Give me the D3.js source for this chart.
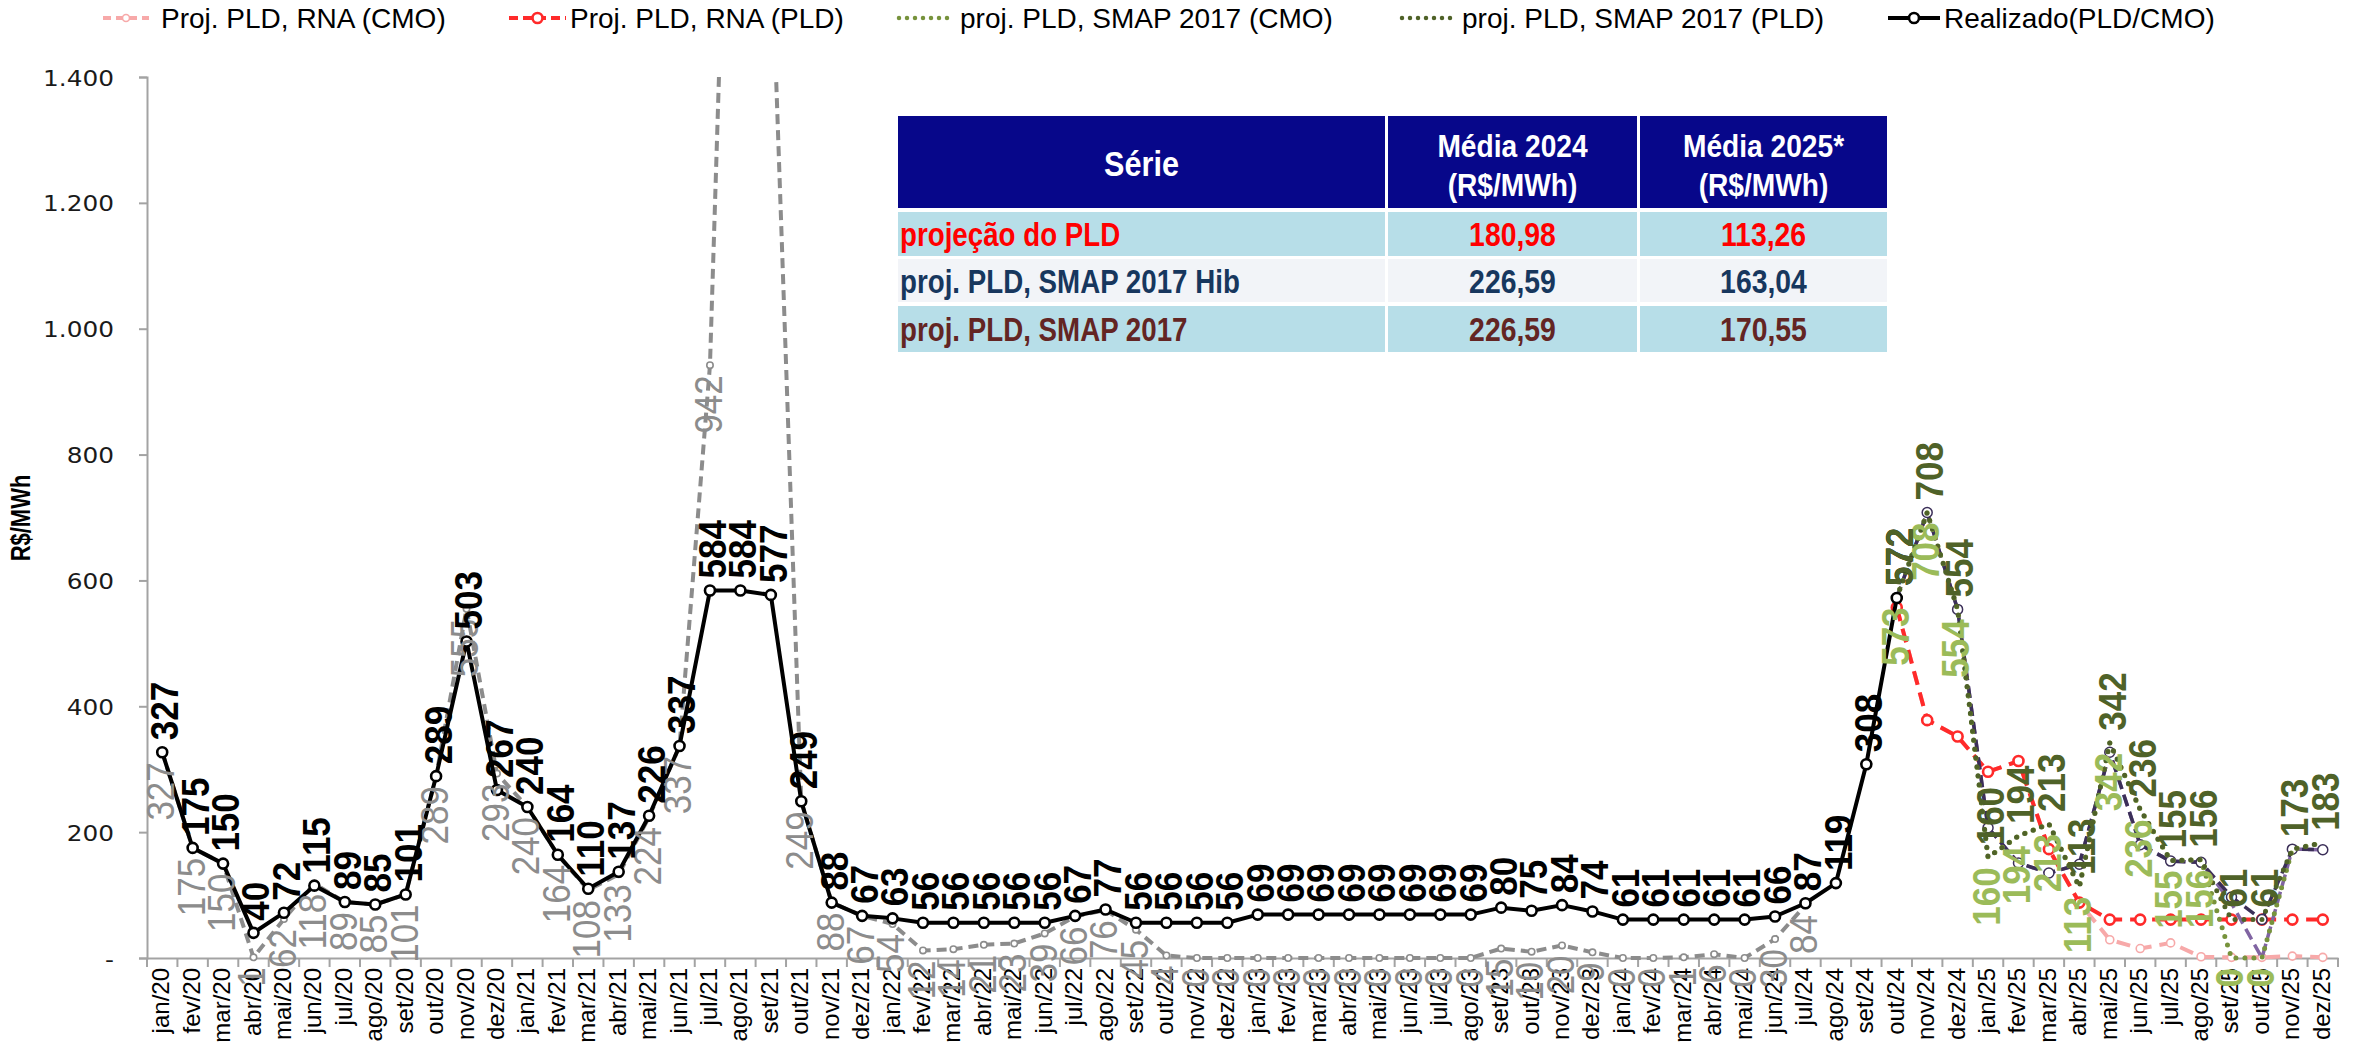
<!DOCTYPE html>
<html>
<head>
<meta charset="utf-8">
<script src="https://cdn.jsdelivr.net/npm/d3@7"></script>
<style>
  html, body { margin: 0; padding: 0; background: #ffffff; }
  svg { display: block; }
</style>
</head>
<body>
<svg id="chart" width="2361" height="1042"></svg>
<script>
// ---- categories -------------------------------------------------------
const monthNames = ["jan","fev","mar","abr","mai","jun","jul","ago","set","out","nov","dez"];
const years = ["20","21","22","23","24","25"];
const months = years.flatMap(a => monthNames.map(m => `${m}/${a}`));
const projStart = "out/24";           // first month of the projections

const yTicks = [0, 200, 400, 600, 800, 1000, 1200, 1400];

// ---- series (R$/MWh) --------------------------------------------------
// Realizado (PLD/CMO), jan/20 .. out/24
const realizado = [
  327,175,150,40,72,115,89,85,101,289,503,267,
  240,164,110,137,226,337,584,584,577,249,88,67,
  63,56,56,56,56,56,67,77,56,56,56,56,
  69,69,69,69,69,69,69,69,80,75,84,74,
  61,61,61,61,61,66,87,119,308,572
];
// CMO realizado, jan/20 .. jul/24
const cmoRealizado = [
  327,175,150,1,62,118,89,85,101,289,555,293,
  240,164,108,133,224,337,942,2493,1640,249,88,67,
  54,12,14,21,23,39,66,76,45,4,0,0,
  0,0,0,0,0,0,0,0,15,10,20,9,
  0,0,1,6,0,30,84
];
// projections, out/24 .. dez/25
const rnaCmo   = [557,378,352,296,313,173,88,29,15,24,2,1,1,3,1];
const rnaPld   = [557,378,352,296,313,173,88,61,61,61,61,61,61,61,61];
const hibCmo   = [572,708,554,207,151,135,149,327,180,154,152,87,0,173,172];
const hibPld   = [572,708,554,207,151,135,149,327,180,154,152,97,61,173,172];
const smapCmo  = [573,708,554,160,194,213,113,342,236,155,156,0,0,173,183];
const smapPld  = [572,708,554,160,194,213,113,342,236,155,156,61,61,173,183];
const smapCmoSemRotulo = ["nov/25","dez/25"];

// ---- summary table ----------------------------------------------------
const tabelaCabecalho = ["Série", "Média 2024", "Média 2025*"];
const tabelaUnidade = "(R$/MWh)";
const tabelaSeries = ["projeção do PLD", "proj. PLD, SMAP 2017 Hib", "proj. PLD, SMAP 2017"];
const media2024 = ["180,98", "226,59", "226,59"];
const media2025 = ["113,26", "163,04", "170,55"];

// ---- legend -----------------------------------------------------------
const legendNames = [
  "Proj. PLD, RNA (CMO)",
  "Proj. PLD, RNA (PLD)",
  "proj. PLD, SMAP 2017 (CMO)",
  "proj. PLD, SMAP 2017 (PLD)",
  "Realizado(PLD/CMO)"
];

// ======================================================================
const FONT = "'Liberation Sans', Arial, sans-serif";
const svg = d3.select("#chart");

const X0 = 147, X1 = 2338, Y0 = 958, Y1 = 77;
const x = d3.scaleBand().domain(months).range([X0, X1]);
const y = d3.scaleLinear().domain([0, 1400]).range([Y0, Y1]);
const cx = m => x(m) + x.bandwidth() / 2;

const ptBr = d3.formatLocale({ decimal: ",", thousands: ".", grouping: [3], currency: ["R$ ", ""] });
const fmtTick = ptBr.format(",");

svg.append("defs").append("clipPath").attr("id", "plotClip")
  .append("rect").attr("x", X0 - 20).attr("y", Y1).attr("width", X1 - X0 + 40).attr("height", 1042 - Y1);

// ---- axes -------------------------------------------------------------
const AXIS = "#a3a3a3";

const yAxis = svg.append("g").attr("transform", `translate(${X0},0)`)
  .call(d3.axisLeft(y).tickValues(yTicks).tickSize(8).tickFormat(d => d === 0 ? "-" : fmtTick(d)));
yAxis.select(".domain").attr("stroke", AXIS).attr("stroke-width", 2);
yAxis.selectAll(".tick line").attr("stroke", AXIS).attr("stroke-width", 2);
yAxis.selectAll(".tick text")
  .attr("x", null).attr("dy", null)
  .attr("transform", "translate(-33,8) scale(1.18,1)")
  .attr("text-anchor", "end")
  .attr("font-family", "'DejaVu Sans', Verdana, sans-serif").attr("font-size", 21).attr("fill", "#1a1a1a");

const xAxis = svg.append("g").attr("transform", `translate(0,${Y0})`)
  .call(d3.axisBottom(x).tickSize(0));
xAxis.select(".domain").attr("stroke", AXIS).attr("stroke-width", 2);
xAxis.selectAll(".tick text")
  .attr("y", null).attr("dy", null)
  .attr("transform", "translate(7,10) rotate(-90)")
  .attr("text-anchor", "end")
  .attr("font-family", FONT).attr("font-size", 24).attr("fill", "#000");
// tick marks sit between categories
svg.append("g").selectAll("line").data(months.concat(["__end"])).join("line")
  .attr("x1", d => d === "__end" ? X1 : x(d)).attr("x2", d => d === "__end" ? X1 : x(d))
  .attr("y1", Y0).attr("y2", Y0 + 9)
  .attr("stroke", AXIS).attr("stroke-width", 2);

// y axis title
svg.append("text")
  .attr("transform", "translate(30,518) scale(1.25,1) rotate(-90)")
  .attr("text-anchor", "middle")
  .attr("font-family", FONT).attr("font-size", 22).attr("font-weight", "bold")
  .text("R$/MWh");

// ---- series -----------------------------------------------------------
const startIdx = months.indexOf(projStart);
const toPoints = (first, vals) => vals.map((v, i) => ({ m: months[first + i], v }));

const line = d3.line().x(d => cx(d.m)).y(d => y(d.v));
const plot = svg.append("g").attr("clip-path", "url(#plotClip)");

function drawSeries(pts, o) {
  plot.append("path").datum(pts)
    .attr("d", line).attr("fill", "none")
    .attr("stroke", o.color).attr("stroke-width", o.width)
    .attr("stroke-dasharray", o.dash || null)
    .attr("stroke-linecap", o.cap || "butt")
    .attr("stroke-linejoin", "round");
  if (o.r) {
    plot.append("g").selectAll("circle").data(pts.filter(d => d.v <= 1400)).join("circle")
      .attr("cx", d => cx(d.m)).attr("cy", d => y(d.v)).attr("r", o.r)
      .attr("fill", "#fff").attr("stroke", o.mcolor || o.color).attr("stroke-width", o.mwidth);
  }
}

const cmoPts   = toPoints(0, cmoRealizado);
const realPts  = toPoints(0, realizado);
const rnaCmoPts  = toPoints(startIdx, rnaCmo);
const rnaPldPts  = toPoints(startIdx, rnaPld);
const hibCmoPts  = toPoints(startIdx, hibCmo);
const hibPldPts  = toPoints(startIdx, hibPld);
const smapCmoPts = toPoints(startIdx, smapCmo);
const smapPldPts = toPoints(startIdx, smapPld);

const C = {
  gray: "#8c8c8c", pink: "#f7a9a9", red: "#ff2a2a",
  hib: "#3b2f58", hibLight: "#8064a2",
  olive: "#77933c", oliveDark: "#4f6228",
  green: "#9bbb59", black: "#000"
};

drawSeries(cmoPts,     { color: C.gray, width: 4, dash: "10,6", r: 3.2, mwidth: 1.6 });
drawSeries(rnaCmoPts,  { color: C.pink, width: 4, dash: "14,8", r: 4, mwidth: 1.6 });
drawSeries(rnaPldPts,  { color: C.red, width: 4, dash: "14,8", r: 5, mwidth: 2.6 });
drawSeries(hibCmoPts,  { color: C.hibLight, width: 3.5, dash: "12,6" });
drawSeries(hibPldPts,  { color: C.hib, width: 3.5, dash: "12,6", r: 5, mwidth: 1.5 });
drawSeries(smapCmoPts, { color: C.olive, width: 5, dash: "0,9", cap: "round" });
drawSeries(smapPldPts, { color: C.oliveDark, width: 5, dash: "0,9", cap: "round" });
drawSeries(realPts,    { color: C.black, width: 4, r: 5, mwidth: 2.6 });

// ---- data labels (rotated, Excel style) ------------------------------
const labelLayer = svg.append("g");
function drawLabels(pts, o) {
  labelLayer.append("g").selectAll("text")
    .data(pts.filter(d => d.v <= 1400 && !(o.skip || []).includes(d.m)))
    .join("text")
    .attr("transform", d => {
      const yy = o.above ? y(d.v) - 12 : y(d.v) + 10;
      return `translate(${cx(d.m) + (o.dx || 0)},${yy}) scale(1.1,1) rotate(-90)`;
    })
    .attr("dy", "0.36em")
    .attr("text-anchor", o.above ? "start" : "end")
    .attr("font-family", FONT).attr("font-size", 35)
    .attr("font-weight", o.bold ? "bold" : "normal")
    .attr("fill", o.color)
    .text(d => Math.round(d.v));
}
drawLabels(cmoPts,     { above: false, color: C.gray, dx: -2 });
drawLabels(realPts,    { above: true, bold: true, color: C.black, dx: 2 });
drawLabels(smapCmoPts, { above: false, bold: true, color: C.green, dx: -2, skip: smapCmoSemRotulo });
drawLabels(smapPldPts, { above: true, bold: true, color: C.oliveDark, dx: 2 });

// ---- legend -----------------------------------------------------------
const legendItems = [
  { x1: 103, x2: 149, tx: 161, color: C.pink, width: 4, dash: "8,5", r: 3.5, mw: 1.6 },
  { x1: 509, x2: 566, tx: 570, color: C.red, width: 4, dash: "9,5", r: 5, mw: 2.6 },
  { x1: 899, x2: 953, tx: 960, color: C.olive, width: 4.5, dash: "0,8", cap: "round" },
  { x1: 1402, x2: 1451, tx: 1462, color: C.oliveDark, width: 4.5, dash: "0,8", cap: "round" },
  { x1: 1888, x2: 1940, tx: 1944, color: C.black, width: 4, r: 5, mw: 2.6 }
];
const LY = 18;
const legend = svg.append("g");
legendItems.forEach((it, i) => {
  legend.append("line")
    .attr("x1", it.x1).attr("x2", it.x2).attr("y1", LY).attr("y2", LY)
    .attr("stroke", it.color).attr("stroke-width", it.width)
    .attr("stroke-dasharray", it.dash || null).attr("stroke-linecap", it.cap || "butt");
  if (it.r) {
    legend.append("circle").attr("cx", (it.x1 + it.x2) / 2).attr("cy", LY).attr("r", it.r)
      .attr("fill", "#fff").attr("stroke", it.color).attr("stroke-width", it.mw);
  }
  legend.append("text")
    .attr("x", it.tx).attr("y", LY + 10)
    .attr("font-family", FONT).attr("font-size", 28).attr("fill", "#000")
    .text(legendNames[i]);
});

// ---- summary table ----------------------------------------------------
const T = {
  cols: [[898, 1385], [1388, 1637], [1640, 1887]],
  head: [116, 208],
  rows: [[212, 256], [259, 302], [306, 352]],
  headFill: "#07078a",
  rowFill: ["#b7dee8", "#f2f4f8", "#b7dee8"],
  rowText: ["#ff0000", "#17375e", "#632523"]
};
const tab = svg.append("g");
T.cols.forEach(([a, b]) => {
  tab.append("rect").attr("x", a).attr("y", T.head[0]).attr("width", b - a).attr("height", T.head[1] - T.head[0])
    .attr("fill", T.headFill);
});
T.rows.forEach(([r0, r1], i) => {
  T.cols.forEach(([a, b]) => {
    tab.append("rect").attr("x", a).attr("y", r0).attr("width", b - a).attr("height", r1 - r0)
      .attr("fill", T.rowFill[i]);
  });
});
// condensed bold text: scaled horizontally around its anchor
function tText(xx, yy, s, size, color, anchor, sx) {
  return tab.append("text")
    .attr("transform", `translate(${xx},${yy}) scale(${sx},1)`)
    .attr("text-anchor", anchor)
    .attr("font-family", FONT).attr("font-weight", "bold").attr("font-size", size)
    .attr("fill", color).text(s);
}
const midCol = c => (T.cols[c][0] + T.cols[c][1]) / 2;
tText(midCol(0), 176, tabelaCabecalho[0], 36, "#fff", "middle", 0.85);
tText(midCol(1), 157, tabelaCabecalho[1], 32, "#fff", "middle", 0.88);
tText(midCol(1), 196, tabelaUnidade, 32, "#fff", "middle", 0.88);
tText(midCol(2), 157, tabelaCabecalho[2], 32, "#fff", "middle", 0.88);
tText(midCol(2), 196, tabelaUnidade, 32, "#fff", "middle", 0.88);
T.rows.forEach(([r0, r1], i) => {
  const yy = (r0 + r1) / 2 + 12;
  tText(900, yy, tabelaSeries[i], 33, T.rowText[i], "start", 0.84);
  tText(midCol(1), yy, media2024[i], 33, T.rowText[i], "middle", 0.86);
  tText(midCol(2), yy, media2025[i], 33, T.rowText[i], "middle", 0.86);
});
</script>
</body>
</html>
